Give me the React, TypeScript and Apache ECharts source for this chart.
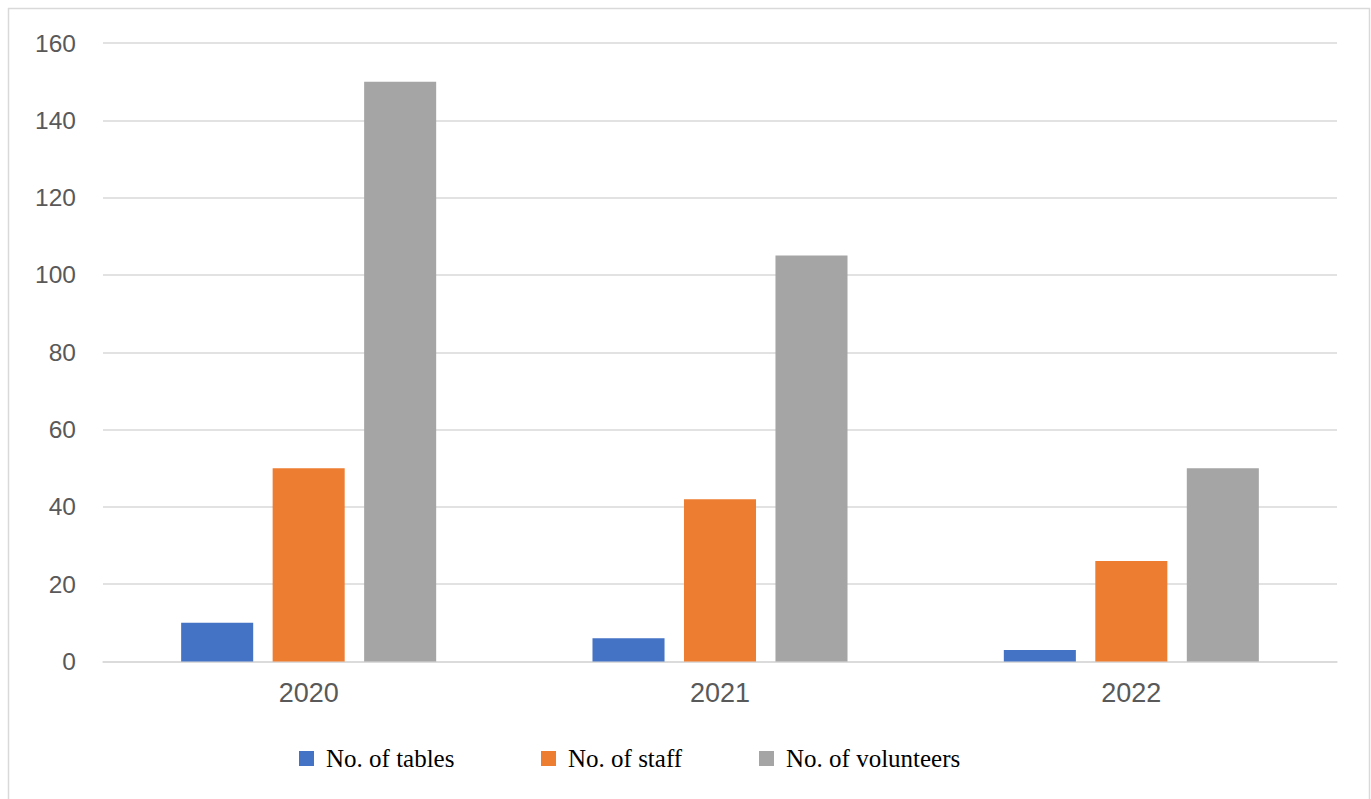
import React, { useEffect, useRef } from "react";
import * as echarts from "echarts";

const categories = ["2020", "2021", "2022"];
const tables = [10, 6, 3];
const staff = [50, 42, 26];
const volunteers = [150, 105, 50];
const seriesNames = ["No. of tables", "No. of staff", "No. of volunteers"];
const colors = ["#4472C4", "#ED7D31", "#A5A5A5"];

export default function App() {
  const ref = useRef<HTMLDivElement>(null);
  useEffect(() => {
    const chart = echarts.init(ref.current!, null, { renderer: "svg" });
    const legendPos = [299, 541, 759];
    chart.setOption({
      animation: false,
      backgroundColor: "#ffffff",
      grid: { left: 103, right: 34, top: 43, bottom: 137.5, containLabel: false },
      xAxis: {
        type: "category",
        data: categories,
        axisLine: { show: true, lineStyle: { color: "#d9d9d9", width: 1.5 } },
        axisTick: { show: false },
        axisLabel: { color: "#595959", fontSize: 27, fontFamily: "Liberation Sans, Arial, sans-serif", margin: 18 },
      },
      yAxis: {
        type: "value",
        min: 0,
        max: 160,
        interval: 20,
        axisLine: { show: false },
        axisTick: { show: false },
        splitLine: { lineStyle: { color: "#d9d9d9", width: 1.5 } },
        axisLabel: { color: "#595959", fontSize: 24.5, fontFamily: "Liberation Sans, Arial, sans-serif", margin: 27 },
      },
      legend: seriesNames.map((n, i) => ({
        data: [n],
        left: legendPos[i],
        top: 746,
        padding: 0,
        icon: "rect",
        itemWidth: 15,
        itemHeight: 15,
        textStyle: {
          fontFamily: "Liberation Serif, Times New Roman, serif",
          fontSize: 25,
          color: "#000000",
          padding: [0, 0, 0, 7],
        },
      })),
      graphic: [
        {
          type: "rect",
          shape: { x: 8.5, y: 8.5, width: 1361, height: 800 },
          style: { fill: "none", stroke: "#d9d9d9", lineWidth: 1.5 },
          silent: true,
        },
      ],
      series: [tables, staff, volunteers].map((d, i) => ({
        name: seriesNames[i],
        type: "bar",
        data: d,
        itemStyle: { color: colors[i] },
        barGap: "27%",
        barCategoryGap: "38%",
      })),
    });
    return () => chart.dispose();
  }, []);
  return <div ref={ref} style={{ position: "absolute", left: 0, top: 0, width: 1371, height: 799 }} />;
}
